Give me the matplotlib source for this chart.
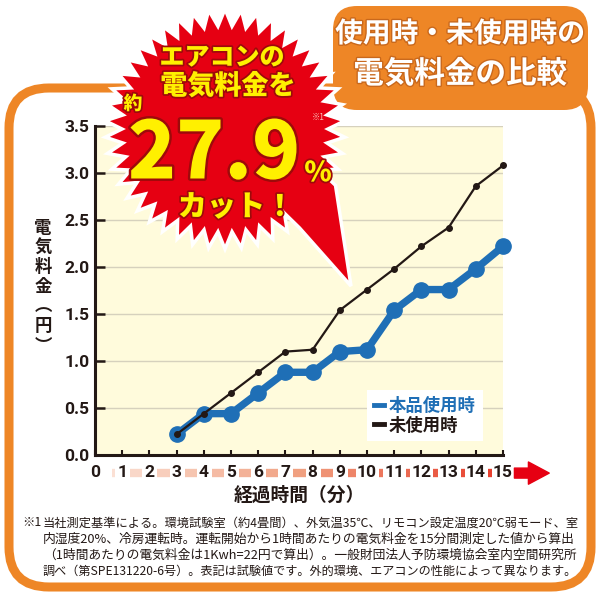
import numpy as np
import matplotlib
matplotlib.use('Agg')
import matplotlib.pyplot as plt
from matplotlib.patches import FancyBboxPatch, Polygon
from matplotlib.lines import Line2D
from matplotlib.colors import LinearSegmentedColormap
import matplotlib.patheffects as pe

plt.rcParams['font.family'] = ['Noto Sans CJK JP', 'DejaVu Sans']

# ---------------- data ----------------
minutes = [3, 4, 5, 6, 7, 8, 9, 10, 11, 12, 13, 14, 15]
with_product = [0.22, 0.44, 0.44, 0.66, 0.88, 0.88, 1.10, 1.12, 1.54, 1.76, 1.76, 1.98, 2.22]
without_product = [0.22, 0.44, 0.66, 0.88, 1.10, 1.12, 1.54, 1.76, 1.98, 2.22, 2.42, 2.86, 3.08]
x_ticks = list(range(0, 16))
x_tick_labels = [str(v) for v in x_ticks]
y_ticks = [0.0, 0.5, 1.0, 1.5, 2.0, 2.5, 3.0, 3.5]
y_tick_labels = ['0.0', '0.5', '1.0', '1.5', '2.0', '2.5', '3.0', '3.5']
series_labels = ['本品使用時', '未使用時']
title_lines = ['使用時・未使用時の', '電気料金の比較']
burst_lines = ['エアコンの', '電気料金を', '約', '27.9', '%', 'カット！']
burst_note = '※1'
ylabel_chars = ['電', '気', '料', '金', '︵', '円', '︶']
xlabel = '経過時間（分）'
footnote_mark = '※1'
footnote_lines = [
    '当社測定基準による。環境試験室（約4畳間）、外気温35℃、リモコン設定温度20℃弱モード、室',
    '内湿度20%、冷房運転時。運転開始から1時間あたりの電気料金を15分間測定した値から算出',
    '（1時間あたりの電気料金は1Kwh=22円で算出）。一般財団法人予防環境協会室内空間研究所',
    '調べ（第SPE131220-6号）。表記は試験値です。外的環境、エアコンの性能によって異なります。',
]

ORANGE = '#EE8626'
RED = '#E60012'
YELLOW = '#FFF000'
BLUE = '#1F6FB6'
INK = '#231815'

fig = plt.figure(figsize=(6, 6), dpi=100)
fig.patch.set_facecolor('white')
renderer = fig.canvas.get_renderer()

# background layer (pixel coordinates)
bg = fig.add_axes([0, 0, 1, 1], zorder=0)
bg.set_xlim(0, 600)
bg.set_ylim(600, 0)
bg.axis('off')
bg.add_patch(FancyBboxPatch((9, 88), 582, 499, boxstyle='round,pad=0,rounding_size=40',
                            fc='none', ec=ORANGE, lw=6.5))

# y label (vertical stacked, one text)
bg.text(43, 287, '\n'.join(ylabel_chars), ha='center', va='center', fontsize=12.5,
        fontweight='bold', color=INK, linespacing=1.12, multialignment='center')

# footnote: fit each line into the framed width
bg.text(22, 523, footnote_mark, ha='left', va='center', fontsize=8.8, color=INK)
for i, line in enumerate(footnote_lines):
    t = bg.text(43, 523 + i * 16, line, ha='left', va='center', fontsize=9.0, color=INK)
    w = t.get_window_extent(renderer).width
    t.set_fontsize(min(9.0 * 535.0 / w, 9.3))

# ---------------- main chart ----------------
ax = fig.add_axes([95 / 600, 145 / 600, 408 / 600, 329 / 600], zorder=1)
ax.set_facecolor('#FFFBDC')
ax.set_xlim(0, 15)
ax.set_ylim(0, 3.5)
ax.set_xticks(x_ticks)
ax.set_xticklabels(x_tick_labels)
ax.set_yticks(y_ticks)
ax.set_yticklabels(y_tick_labels)
ax.yaxis.grid(True, color='#D6D1BD', lw=1)
ax.set_axisbelow(True)
for s in ['top', 'right']:
    ax.spines[s].set_visible(False)
for s in ['left', 'bottom']:
    ax.spines[s].set_linewidth(2.2)
    ax.spines[s].set_color(INK)
ax.tick_params(axis='y', direction='in', length=7, width=1.8, pad=4, colors=INK)
ax.tick_params(axis='x', direction='in', length=3.5, width=1.5, pad=7, colors=INK)
for lbl in ax.get_xticklabels() + ax.get_yticklabels():
    lbl.set_fontfamily('Roboto')
    lbl.set_fontweight('bold')
    lbl.set_fontsize(12.5)

ax.plot(minutes, with_product, color=BLUE, lw=5.3, marker='o', ms=11,
        solid_joinstyle='round', zorder=3, clip_on=False)
ax.plot(minutes, without_product, color=INK, lw=1.6, marker='o', ms=4,
        zorder=4, clip_on=False)

handles = [Line2D([], [], color=BLUE, lw=3.5), Line2D([], [], color=INK, lw=3.5)]
leg = ax.legend(handles, series_labels, loc='upper left', bbox_to_anchor=(0.667, 0.198),
                borderaxespad=0, frameon=True, fancybox=False, facecolor='white',
                edgecolor='none', framealpha=1, handlelength=0.55, handletextpad=0.3,
                labelspacing=0.1, borderpad=0.4,
                prop={'family': 'Noto Sans CJK JP', 'weight': 'bold', 'size': 12.5},
                labelcolor=[BLUE, INK])
leg.set_zorder(5)

ax.xaxis.set_label_coords(0.483, -0.122)
ax.set_xlabel(xlabel, fontsize=13.5, fontweight='bold', color=INK, va='center')

# gradient arrow along the x tick labels
xt = ax.get_xaxis_transform()
ppu = 408 / 15.0
band_y = -0.055
cmap = LinearSegmentedColormap.from_list('band', ['#FBE0D4', '#F0A080', '#E8402E'])
def half(k):
    return 5 if k < 10 else 9
for k in range(15):
    x0 = k + (half(k) + 3) / ppu if k > 0 else 0.62
    x1 = k + 1 - (half(k + 1) + 2) / ppu
    ax.plot([x0, x1], [band_y, band_y], transform=xt, lw=6, color=cmap(k / 14),
            solid_capstyle='butt', clip_on=False, zorder=2)
ax.annotate('', xy=(16.7, band_y), xycoords=xt, xytext=(15.42, band_y), textcoords=xt,
            arrowprops=dict(arrowstyle='simple,head_length=0.75,head_width=0.8,tail_width=0.36',
                            color=RED, shrinkA=0, shrinkB=0, mutation_scale=20),
            annotation_clip=False)

# ---------------- overlay (burst + title) ----------------
ov = fig.add_axes([0, 0, 1, 1], zorder=3)
ov.set_xlim(0, 600)
ov.set_ylim(600, 0)
ov.axis('off')
ov.patch.set_alpha(0)

# title box
ov.add_patch(FancyBboxPatch((333, 6), 255, 104, boxstyle='round,pad=0,rounding_size=24',
                            fc=ORANGE, ec='none'))
tshadow = [pe.withStroke(linewidth=2, foreground='#C9681C')]
ov.text(460, 34, title_lines[0], ha='center', va='center', fontsize=20,
        fontweight='bold', color='white', path_effects=tshadow)
ov.text(460, 74, title_lines[1], ha='center', va='center', fontsize=22,
        fontweight='bold', color='white', path_effects=tshadow)

# starburst with tail
cx, cy = 225, 129
R_out, R_in = 120, 103
N = 46
ang = np.linspace(0, 2 * np.pi, 2 * N, endpoint=False) - np.pi / 2
rad = np.where(np.arange(2 * N) % 2 == 0, R_out, R_in)
a1, a2 = np.deg2rad(27), np.deg2rad(53)
tip = (351, 286)
pts = []
inserted = False
for a, r in zip(ang, rad):
    aa = a % (2 * np.pi)
    if a1 < aa < a2:
        if not inserted:
            pts.append((cx + 124 * np.cos(a1), cy + 124 * np.sin(a1)))
            pts.append(tip)
            pts.append((cx + 124 * np.cos(a2), cy + 124 * np.sin(a2)))
            inserted = True
        continue
    pts.append((cx + r * np.cos(a), cy + r * np.sin(a)))
ov.add_patch(Polygon(pts, closed=True, fc=RED, ec='white', lw=2.5, joinstyle='miter'))

st_big = [pe.withStroke(linewidth=3.5, foreground='#9E0A0A')]
st_small = [pe.withStroke(linewidth=2.5, foreground='#9E0A0A')]
ov.text(222, 57, burst_lines[0], ha='center', va='center', fontsize=18, fontweight='heavy',
        color=YELLOW, path_effects=st_small)
ov.text(228, 86, burst_lines[1], ha='center', va='center', fontsize=19.5, fontweight='heavy',
        color=YELLOW, path_effects=st_small)
ov.text(133, 104, burst_lines[2], ha='center', va='center', fontsize=13.5, fontweight='heavy',
        color=YELLOW, path_effects=st_small)
ov.text(214, 155, burst_lines[3], ha='center', va='center', fontsize=57, fontweight='heavy',
        color=YELLOW, path_effects=st_big)
ov.text(318, 173, burst_lines[4], ha='center', va='center', fontsize=20, fontweight='heavy',
        color=YELLOW, path_effects=st_small)
ov.text(236, 207, burst_lines[5], ha='center', va='center', fontsize=21, fontweight='heavy',
        color=YELLOW, path_effects=st_small)
ov.text(318, 117, burst_note, ha='center', va='center', fontsize=6, color='#F6C1B8')

fig.savefig('out.png', dpi=100, facecolor='white')
